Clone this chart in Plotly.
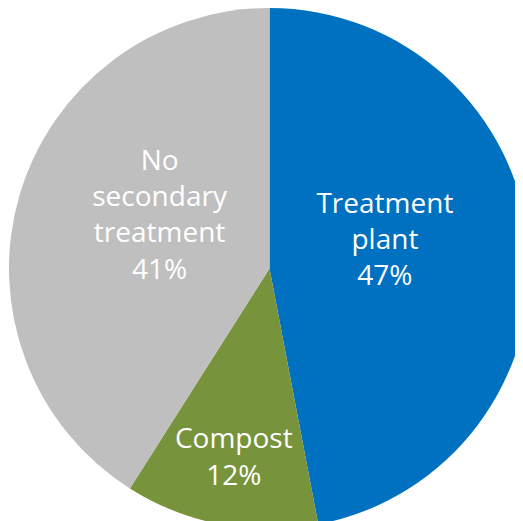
import plotly.graph_objects as go

labels = ["Treatment plant", "Compost", "No secondary treatment"]
label_lines = [["Treatment", "plant"], ["Compost"], ["No", "secondary", "treatment"]]
values = [47, 12, 41]
colors = ["#0070C0", "#77933C", "#BFBFBF"]

total = sum(values)
# small nudges of the inside labels (left/right padding in spaces, extra blank line)
pad_left = [0, 0, 5]
pad_right = [4, 0, 0]
extra_line = [True, False, True]

texts = []
for lines, v, pl, pr, ex in zip(label_lines, values, pad_left, pad_right, extra_line):
    rows = lines + [f"{round(100 * v / total)}%"]
    rows = ["&nbsp;" * pl + r + "&nbsp;" * pr for r in rows]
    if ex:
        rows.append("&nbsp;")
    texts.append("<br>".join(rows))

fig = go.Figure(go.Pie(
    labels=labels,
    values=values,
    text=texts,
    texttemplate="%{text}",
    textposition="inside",
    insidetextorientation="horizontal",
    sort=False,
    direction="clockwise",
    rotation=0,
    marker=dict(colors=colors, line=dict(width=0)),
    textfont=dict(family="Open Sans", size=28, color="white"),
    showlegend=False,
    hoverinfo="label+percent",
))
fig.update_layout(
    width=523, height=521,
    margin=dict(l=0, r=0, t=0, b=0),
    paper_bgcolor="white",
)
fig.write_html("out.html")
